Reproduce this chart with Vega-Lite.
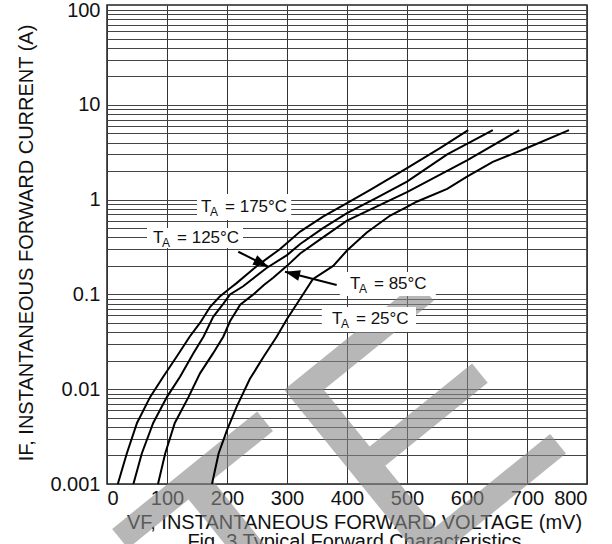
{
  "$schema": "https://vega.github.io/schema/vega-lite/v6.json",
  "width": 480,
  "height": 479,
  "autosize": {"type": "none"},
  "padding": {"left": 107, "top": 5, "right": 25, "bottom": 60},
  "background": "white",
  "config": {
    "font": "Liberation Sans",
    "view": {"stroke": "#222", "strokeWidth": 1.5},
    "axis": {"domain": false, "ticks": false, "grid": true, "gridColor": "#444", "gridWidth": 1, "labelColor": "#111", "titleColor": "#111", "labelFont": "Liberation Sans", "titleFont": "Liberation Sans", "titleFontWeight": "normal"}
  },
  "datasets": {
    "wm": [{"word": "OBSOLETE", "v": 783.3, "i": 0.0026}],
    "curves": [
      {"T": "175", "v": 18, "i": 0.001}, {"T": "175", "v": 33, "i": 0.0021}, {"T": "175", "v": 50, "i": 0.0044}, {"T": "175", "v": 72, "i": 0.0083}, {"T": "175", "v": 94, "i": 0.0136}, {"T": "175", "v": 116, "i": 0.022}, {"T": "175", "v": 138, "i": 0.036}, {"T": "175", "v": 155, "i": 0.05}, {"T": "175", "v": 172, "i": 0.074}, {"T": "175", "v": 188, "i": 0.095}, {"T": "175", "v": 205, "i": 0.116}, {"T": "175", "v": 215, "i": 0.13}, {"T": "175", "v": 250, "i": 0.2}, {"T": "175", "v": 288, "i": 0.3}, {"T": "175", "v": 322, "i": 0.46}, {"T": "175", "v": 360, "i": 0.66}, {"T": "175", "v": 400, "i": 0.92}, {"T": "175", "v": 438, "i": 1.26}, {"T": "175", "v": 500, "i": 2.15}, {"T": "175", "v": 555, "i": 3.5}, {"T": "175", "v": 602, "i": 5.4},
      {"T": "125", "v": 44, "i": 0.001}, {"T": "125", "v": 58, "i": 0.0021}, {"T": "125", "v": 77, "i": 0.0044}, {"T": "125", "v": 100, "i": 0.0083}, {"T": "125", "v": 122, "i": 0.0136}, {"T": "125", "v": 144, "i": 0.024}, {"T": "125", "v": 161, "i": 0.036}, {"T": "125", "v": 177, "i": 0.058}, {"T": "125", "v": 194, "i": 0.08}, {"T": "125", "v": 205, "i": 0.1}, {"T": "125", "v": 227, "i": 0.122}, {"T": "125", "v": 266, "i": 0.19}, {"T": "125", "v": 300, "i": 0.26}, {"T": "125", "v": 322, "i": 0.34}, {"T": "125", "v": 360, "i": 0.5}, {"T": "125", "v": 400, "i": 0.72}, {"T": "125", "v": 450, "i": 1.05}, {"T": "125", "v": 500, "i": 1.55}, {"T": "125", "v": 567, "i": 3.0}, {"T": "125", "v": 643, "i": 5.4},
      {"T": "85", "v": 85, "i": 0.001}, {"T": "85", "v": 97, "i": 0.0021}, {"T": "85", "v": 113, "i": 0.0044}, {"T": "85", "v": 136, "i": 0.0083}, {"T": "85", "v": 155, "i": 0.0147}, {"T": "85", "v": 177, "i": 0.024}, {"T": "85", "v": 194, "i": 0.036}, {"T": "85", "v": 205, "i": 0.052}, {"T": "85", "v": 222, "i": 0.078}, {"T": "85", "v": 244, "i": 0.1}, {"T": "85", "v": 261, "i": 0.125}, {"T": "85", "v": 277, "i": 0.15}, {"T": "85", "v": 300, "i": 0.2}, {"T": "85", "v": 322, "i": 0.27}, {"T": "85", "v": 360, "i": 0.4}, {"T": "85", "v": 400, "i": 0.6}, {"T": "85", "v": 450, "i": 0.85}, {"T": "85", "v": 500, "i": 1.2}, {"T": "85", "v": 600, "i": 2.6}, {"T": "85", "v": 687, "i": 5.4},
      {"T": "25", "v": 175, "i": 0.001}, {"T": "25", "v": 186, "i": 0.0021}, {"T": "25", "v": 200, "i": 0.0037}, {"T": "25", "v": 216, "i": 0.0065}, {"T": "25", "v": 238, "i": 0.0128}, {"T": "25", "v": 261, "i": 0.022}, {"T": "25", "v": 283, "i": 0.036}, {"T": "25", "v": 300, "i": 0.055}, {"T": "25", "v": 322, "i": 0.09}, {"T": "25", "v": 343, "i": 0.145}, {"T": "25", "v": 377, "i": 0.2}, {"T": "25", "v": 400, "i": 0.29}, {"T": "25", "v": 433, "i": 0.45}, {"T": "25", "v": 472, "i": 0.68}, {"T": "25", "v": 500, "i": 0.84}, {"T": "25", "v": 516, "i": 0.95}, {"T": "25", "v": 567, "i": 1.3}, {"T": "25", "v": 600, "i": 1.75}, {"T": "25", "v": 643, "i": 2.5}, {"T": "25", "v": 700, "i": 3.5}, {"T": "25", "v": 770, "i": 5.4}
    ],
    "labels": [
      {"T": "175", "v1": 150, "v2": 307, "i1": 0.609, "i2": 1.146, "tv": 156.7, "ti": 0.835, "rest": "= 175°C"},
      {"T": "125", "v1": 66.7, "v2": 226.7, "i1": 0.308, "i2": 0.501, "tv": 76.7, "ti": 0.394, "rest": "= 125°C"},
      {"T": "85", "v1": 388, "v2": 548, "i1": 0.0962, "i2": 0.172, "tv": 405, "ti": 0.129, "rest": "= 85°C"},
      {"T": "25", "v1": 358, "v2": 515, "i1": 0.0401, "i2": 0.0736, "tv": 375, "ti": 0.055, "rest": "= 25°C"}
    ],
    "arrows": [
      {"T": "125", "v1": 218.8, "i1": 0.282, "v2": 268.8, "i2": 0.196},
      {"T": "85", "v1": 382.8, "i1": 0.1256, "v2": 296.7, "i2": 0.1736}
    ]
  },
  "layer": [
    {
      "data": {"name": "wm"},
      "mark": {"type": "text", "angle": -39, "fontSize": 330, "align": "right", "baseline": "alphabetic", "fill": "#888", "opacity": 0.6, "font": "Liberation Sans"},
      "encoding": {
        "x": {"field": "v", "type": "quantitative", "scale": {"domain": [0, 800], "nice": false, "zero": false},
          "axis": {"values": [0, 100, 200, 300, 400, 500, 600, 700, 800], "gridColor": "#333", "labelFontSize": 20, "labelPadding": 4, "title": ["VF, INSTANTANEOUS FORWARD VOLTAGE (mV)", "Fig. 3 Typical Forward Characteristics"], "titleLineHeight": 19, "titleFontSize": 20, "titleX": 247, "titleY": 44.5, "titleBaseline": "alphabetic", "titleAlign": "center"}},
        "y": {"field": "i", "type": "quantitative", "scale": {"type": "log", "domain": [0.001, 113], "nice": false},
          "axis": {"values": [0.001, 0.002, 0.003, 0.004, 0.005, 0.006, 0.007, 0.008, 0.009, 0.01, 0.02, 0.03, 0.04, 0.05, 0.06, 0.07, 0.08, 0.09, 0.1, 0.2, 0.3, 0.4, 0.5, 0.6, 0.7, 0.8, 0.9, 1, 2, 3, 4, 5, 6, 7, 8, 9, 10, 20, 30, 40, 50, 60, 70, 80, 90, 100], "format": "~g", "labelExpr": "indexof(['0.001','0.01','0.1','1','10','100'], datum.label) >= 0 ? datum.label : ''", "labelFontSize": 20, "labelPadding": 7, "title": "IF, INSTANTANEOUS FORWARD CURRENT (A)", "titleFontSize": 20, "titleX": -75, "titleY": 237.5, "titleAngle": -90, "titleBaseline": "alphabetic", "titleAlign": "center"}},
        "text": {"field": "word"}
      }
    },
    {
      "data": {"name": "curves"},
      "mark": {"type": "line", "color": "black", "strokeWidth": 2},
      "encoding": {
        "x": {"field": "v", "type": "quantitative"},
        "y": {"field": "i", "type": "quantitative"},
        "detail": {"field": "T"}
      }
    },
    {
      "data": {"name": "labels"},
      "mark": {"type": "rect", "fill": "white"},
      "encoding": {
        "x": {"field": "v1", "type": "quantitative"}, "x2": {"field": "v2"},
        "y": {"field": "i1", "type": "quantitative"}, "y2": {"field": "i2"}
      }
    },
    {
      "data": {"name": "labels"},
      "mark": {"type": "text", "text": "T", "align": "left", "baseline": "middle", "fontSize": 17, "color": "#111"},
      "encoding": {"x": {"field": "tv", "type": "quantitative"}, "y": {"field": "ti", "type": "quantitative"}}
    },
    {
      "data": {"name": "labels"},
      "mark": {"type": "text", "text": "A", "align": "left", "baseline": "middle", "fontSize": 12, "dx": 9, "dy": 5, "color": "#111"},
      "encoding": {"x": {"field": "tv", "type": "quantitative"}, "y": {"field": "ti", "type": "quantitative"}}
    },
    {
      "data": {"name": "labels"},
      "mark": {"type": "text", "align": "left", "baseline": "middle", "fontSize": 17, "dx": 24, "color": "#111"},
      "encoding": {"x": {"field": "tv", "type": "quantitative"}, "y": {"field": "ti", "type": "quantitative"}, "text": {"field": "rest"}}
    },
    {
      "data": {"name": "arrows"},
      "mark": {"type": "rule", "strokeWidth": 2, "color": "black"},
      "encoding": {
        "x": {"field": "v1", "type": "quantitative"}, "x2": {"field": "v2"},
        "y": {"field": "i1", "type": "quantitative"}, "y2": {"field": "i2"}
      }
    },
    {
      "data": {"name": "arrows"},
      "transform": [{"filter": "datum.T == '125'"}],
      "mark": {"type": "point", "shape": "M0,0L-1,-0.36L-1,0.36Z", "filled": true, "color": "black", "opacity": 1, "size": 900, "angle": 26.6},
      "encoding": {"x": {"field": "v2", "type": "quantitative"}, "y": {"field": "i2", "type": "quantitative"}}
    },
    {
      "data": {"name": "arrows"},
      "transform": [{"filter": "datum.T == '85'"}],
      "mark": {"type": "point", "shape": "M0,0L-1,-0.36L-1,0.36Z", "filled": true, "color": "black", "opacity": 1, "size": 900, "angle": 194.4},
      "encoding": {"x": {"field": "v2", "type": "quantitative"}, "y": {"field": "i2", "type": "quantitative"}}
    }
  ]
}
